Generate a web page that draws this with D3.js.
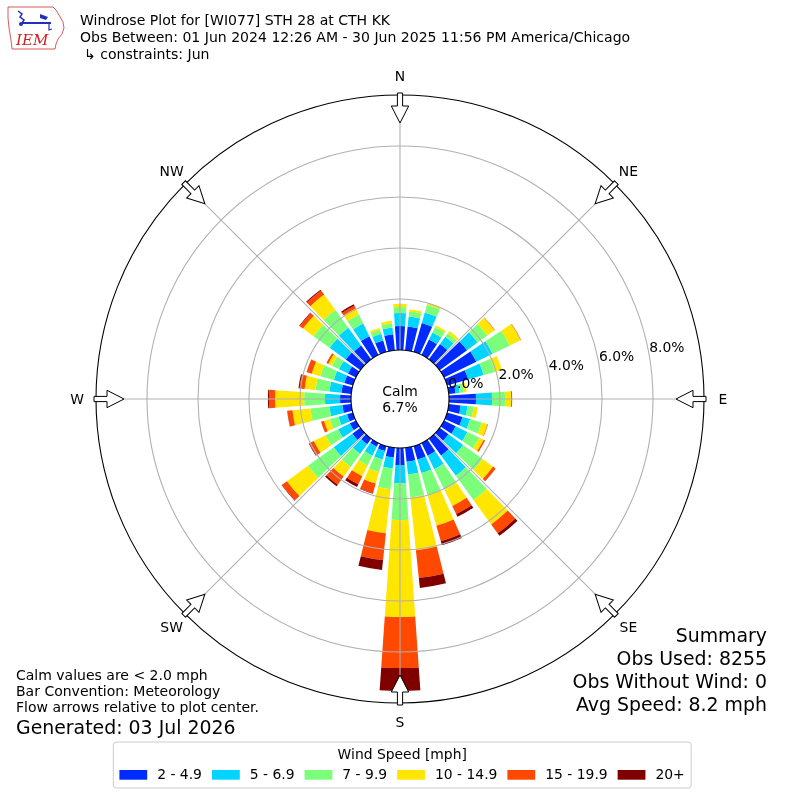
<!DOCTYPE html>
<html>
<head lang="en">
    <meta charset="UTF-8">
    <title>Windrose</title>
    <script src="https://d3js.org/d3.v7.min.js" charset="UTF-8"></script>
    <style>
        *{
            margin: 0;
            padding: 0;
        }
        body{ background:#fff; }
        text{ font-family:"DejaVu Sans", sans-serif; fill:#000; }
    </style>
</head>
<body>
<div id="mychart" style="width:800px;height:800px;position:fixed;left:0;top:0"></div>
<script>
    // direction bins (degrees, centre of bin) and percent of obs per speed bin
    var directions = [0,10,20,30,40,50,60,70,80,90,100,110,120,130,140,150,160,170,180,190,200,210,220,230,240,250,260,270,280,290,300,310,320,330,340,350];
    var speedLabels = ["2 - 4.9","5 - 6.9","7 - 9.9","10 - 14.9","15 - 19.9","20+"];
    var speedColors = ["#002bff","#00d4ff","#7bff7b","#ffe600","#ff4800","#800000"];
    var s2to5   = [0.94,0.94,1.18,0.67,0.75,1.33,1.41,0.86,0.27,1.06,0.47,0.63,0.51,0.43,0.82,0.55,0.55,0.55,0.67,0.39,0.20,0.16,0.27,0.39,0.27,0.24,0.35,0.43,0.39,0.35,0.35,0.71,0.67,0.82,0.47,0.63];
    var s5to7   = [0.51,0.39,0.43,0.31,0.35,0.51,0.71,0.63,0.16,0.63,0.27,0.31,0.51,0.71,0.98,0.59,0.55,0.51,0.71,0.43,0.35,0.39,0.47,0.90,0.51,0.35,0.51,0.59,0.47,0.43,0.39,0.78,0.86,0.55,0.27,0.27];
    var s7to10  = [0.24,0.20,0.31,0.24,0.16,0.47,0.75,0.47,0.16,0.51,0.24,0.47,0.51,0.94,1.18,0.90,0.90,0.90,1.45,0.82,0.51,0.43,0.63,1.25,0.55,0.35,0.75,0.82,0.55,0.55,0.31,0.78,0.86,0.39,0.16,0.16];
    var s10to15 = [0.12,0.08,0.08,0.08,0.12,0.35,0.47,0.27,0.12,0.24,0.16,0.24,0.20,0.51,1.18,0.71,1.25,2.08,3.80,1.73,0.47,0.47,0.47,1.02,0.51,0.24,0.71,1.14,0.43,0.35,0.16,0.51,0.75,0.27,0.08,0.10];
    var s15to20 = [0,0,0,0,0,0.02,0.02,0,0,0.04,0,0.02,0.06,0.12,0.43,0.35,0.63,1.10,2.00,1.06,0.39,0.35,0.39,0.24,0.20,0.12,0.20,0.24,0.20,0.20,0.08,0.16,0.20,0.12,0,0];
    var s20plus = [0,0,0,0,0,0,0,0,0,0,0,0,0,0.01,0.12,0.12,0.16,0.39,0.90,0.39,0.02,0.12,0.08,0.02,0.02,0,0.01,0.04,0.04,0.01,0,0.02,0.04,0.06,0,0];
    var rTicks = [0,2,4,6,8];
    var compassNames = ["N","NE","E","SE","S","SW","W","NW"];
    var compassAngles = [0,45,90,135,180,225,270,315];
    var calmText = "6.7%";
    var titleLines = ["Windrose Plot for [WI077] STH 28 at CTH KK",
        "Obs Between: 01 Jun 2024 12:26 AM - 30 Jun 2025 11:56 PM America/Chicago",
        "\u21b3 constraints: Jun"];
    var noteLines = ["Calm values are < 2.0 mph","Bar Convention: Meteorology","Flow arrows relative to plot center."];
    var summaryLines = ["Summary","Obs Used: 8255","Obs Without Wind: 0","Avg Speed: 8.2 mph"];

    var _svg = d3.select("#mychart").append("svg")
            .attr("width",800).attr("height",800);

    //绘图中心及半径
    var cx = 400, cy = 399;
    var calmR = 49, outerR = 304;
    var _rscale = d3.scaleLinear().domain([0,10]).range([calmR,outerR]);
    var _ascale = d3.scaleLinear().domain([0,360]).range([0,2*Math.PI]);
    var halfWidth = 4; // degrees, bar half width

    var _gchart = _svg.append("g")
            .attr("transform","translate("+cx+","+cy+")");

    // stack the speed bins
    var series = [s2to5,s5to7,s7to10,s10to15,s15to20,s20plus];
    var keys = speedLabels;
    var rows = directions.map(function(d,i){
        var row = {dir:d};
        keys.forEach(function(k,j){ row[k] = series[j][i]; });
        return row;
    });
    var stacked = d3.stack().keys(keys)(rows);

    var _arc = d3.arc()
            .innerRadius(function(d){ return _rscale(d[0]); })
            .outerRadius(function(d){ return _rscale(d[1]); })
            .startAngle(function(d){ return _ascale(d.data.dir - halfWidth); })
            .endAngle(function(d){ return _ascale(d.data.dir + halfWidth); });

    _gchart.append("g").selectAll("g")
            .data(stacked)
            .enter()
            .append("g")
            .attr("fill",function(d,i){ return speedColors[i]; })
            .selectAll("path")
            .data(function(d){ return d.filter(function(e){ return e[1]-e[0] > 0; }); })
            .enter()
            .append("path")
            .attr("d",_arc);

    // grid rings and spokes drawn on top of bars
    var _ggrid = _gchart.append("g");
    _ggrid.selectAll("circle")
            .data(rTicks.slice(1))
            .enter()
            .append("circle")
            .attr("r",function(d){ return _rscale(d); })
            .attr("fill","none")
            .attr("stroke","#b0b0b0")
            .attr("stroke-width",1.1);
    _ggrid.selectAll("line")
            .data(compassAngles)
            .enter()
            .append("line")
            .attr("x1",function(d){ return calmR*Math.sin(_ascale(d)); })
            .attr("y1",function(d){ return -calmR*Math.cos(_ascale(d)); })
            .attr("x2",function(d){ return outerR*Math.sin(_ascale(d)); })
            .attr("y2",function(d){ return -outerR*Math.cos(_ascale(d)); })
            .attr("stroke","#b0b0b0")
            .attr("stroke-width",1.1);

    // spines
    _gchart.append("circle").attr("r",outerR).attr("fill","none").attr("stroke","#000").attr("stroke-width",1.1);
    _gchart.append("circle").attr("r",calmR).attr("fill","#fff").attr("stroke","#000").attr("stroke-width",1.1);

    // calm label
    _gchart.append("text").attr("text-anchor","middle").attr("y",-3).style("font-size","13.9px").text("Calm");
    _gchart.append("text").attr("text-anchor","middle").attr("y",13).style("font-size","13.9px").text(calmText);

    // radial tick labels at 10 degrees above east
    var labAng = _ascale(80);
    _gchart.append("g").selectAll("text")
            .data(rTicks)
            .enter()
            .append("text")
            .attr("x",function(d){ return _rscale(d)*Math.sin(labAng); })
            .attr("y",function(d){ return -_rscale(d)*Math.cos(labAng) - 3; })
            .style("font-size","13.9px")
            .text(function(d){ return d3.format(".1f")(d)+"%"; });

    // compass labels
    _gchart.append("g").selectAll("text")
            .data(compassAngles)
            .enter()
            .append("text")
            .attr("x",function(d){ return 323*Math.sin(_ascale(d)); })
            .attr("y",function(d){ return -323*Math.cos(_ascale(d)); })
            .attr("text-anchor","middle")
            .attr("dominant-baseline","central")
            .style("font-size","13.9px")
            .text(function(d,i){ return compassNames[i]; });

    // hollow flow arrows pointing at the centre
    var arrowPts = [[-2.6,-306],[2.6,-306],[2.6,-293],[8.7,-293],[0,-276],[-8.7,-293],[-2.6,-293]];
    _gchart.append("g").selectAll("path")
            .data(compassAngles)
            .enter()
            .append("path")
            .attr("d","M"+arrowPts.join("L")+"Z")
            .attr("transform",function(d){ return "rotate("+d+")"; })
            .attr("fill","#fff")
            .attr("stroke","#000")
            .attr("stroke-width",1);

    // titles
    _svg.append("g").selectAll("text")
            .data(titleLines)
            .enter()
            .append("text")
            .attr("x",function(d,i){ return i==2 ? 84 : 80; })
            .attr("y",function(d,i){ return 25.3 + i*16.8; })
            .style("font-size","14.05px")
            .text(function(d){ return d; });

    // IEM logo
    var _glogo = _svg.append("g");
    _glogo.append("path")
            .attr("d","M8,7 L53,7 L56,10 L59,15 L63,22 L64,28 L62,34 L58,39 L56,44 L55,49 L12,49 L11,40 L9,28 L8,18 Z")
            .attr("fill","none").attr("stroke","#d23030").attr("stroke-width",0.8);
    _glogo.append("line").attr("x1",22).attr("y1",23).attr("x2",51).attr("y2",23)
            .attr("stroke","#2030c0").attr("stroke-width",2);
    _glogo.append("path").attr("d","M18,11 L22,14 L20,17 L24,20 L22,23").attr("fill","none")
            .attr("stroke","#2030c0").attr("stroke-width",1.5);
    _glogo.append("path").attr("d","M40,14 L48,17 L46,20 L40,18 Z").attr("fill","#2030c0");
    _glogo.append("path").attr("d","M49,23 L49,30 L52,29").attr("fill","none")
            .attr("stroke","#2030c0").attr("stroke-width",1.2);
    _glogo.append("circle").attr("cx",21).attr("cy",24).attr("r",2).attr("fill","#2030c0");
    _glogo.append("text").attr("x",16).attr("y",45)
            .style("font-family","'DejaVu Serif', serif").style("font-style","italic")
            .style("font-size","15px").style("fill","#d02020").text("IEM");

    // notes bottom left
    _svg.append("g").selectAll("text")
            .data(noteLines)
            .enter()
            .append("text")
            .attr("x",16)
            .attr("y",function(d,i){ return 679.5 + i*16.4; })
            .style("font-size","14px")
            .text(function(d){ return d; });
    _svg.append("text").attr("x",16).attr("y",734).style("font-size","18.9px").text("Generated: 03 Jul 2026");

    // summary bottom right
    _svg.append("g").selectAll("text")
            .data(summaryLines)
            .enter()
            .append("text")
            .attr("x",767)
            .attr("y",function(d,i){ return 641.7 + i*23; })
            .attr("text-anchor","end")
            .style("font-size","18.9px")
            .text(function(d){ return d; });

    // legend
    var _glegend = _svg.append("g");
    var legBox = _glegend.append("rect")
            .attr("y",742).attr("height",46).attr("rx",3)
            .attr("fill","#fff").attr("stroke","#cccccc").attr("stroke-width",1);
    var lx = 119.4;
    speedLabels.forEach(function(lab,i){
        _glegend.append("rect").attr("x",lx).attr("y",770).attr("width",27.8).attr("height",9.7)
                .attr("fill",speedColors[i]);
        var t = _glegend.append("text").attr("x",lx+37.8).attr("y",779).style("font-size","13.9px").text(lab);
        lx = lx + 37.8 + t.node().getComputedTextLength() + 10;
    });
    var boxLeft = 113.3, boxRight = lx - 10 + 6.4;
    legBox.attr("x",boxLeft).attr("width",boxRight-boxLeft);
    _glegend.append("text").attr("x",(boxLeft+boxRight)/2).attr("y",759)
            .attr("text-anchor","middle").style("font-size","13.9px").text("Wind Speed [mph]");
</script>
</body>
</html>
